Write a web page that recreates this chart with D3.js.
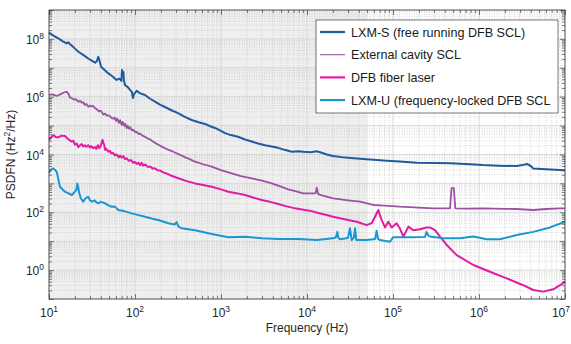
<!DOCTYPE html>
<html><head><meta charset="utf-8">
<script src="https://cdn.jsdelivr.net/npm/d3@7"></script>
<style>
body{margin:0;background:#fff;}
svg{display:block;font-family:"Liberation Sans",Arial,Helvetica,sans-serif;}
</style>
</head><body>
<svg id="chart" width="571" height="344"></svg>
<script>
// ---------- data ----------
const seriesNames = ["LXM-S (free running DFB SCL)", "External cavity SCL", "DFB fiber laser", "LXM-U (frequency-locked DFB SCL"];
const xTickValues = [1e1, 1e2, 1e3, 1e4, 1e5, 1e6, 1e7];
const yTickValues = [1e0, 1e2, 1e4, 1e6, 1e8];
const shadedRange = [10, 5e4];

const lxmS = [[10,1.64e8],[11,1.35e8],[12.8,1.05e8],[14.5,8.2e7],[16.1,7.0e7],[16.8,7.6e7],[17.5,6.7e7],[19.5,5.0e7],[21.9,3.6e7],[25,2.8e7],[28.6,2.1e7],[31,1.8e7],[34.3,1.5e7],[36,1.7e7],[37.4,2.4e7],[38.5,1.9e7],[40.3,1.09e7],[44,8.5e6],[49,6.4e6],[55,5.0e6],[61,3.8e6],[66,4.2e6],[69.5,3.5e6],[70.6,8.4e6],[72,6.0e6],[73.2,7.2e6],[74.5,3.5e6],[76.5,2.5e6],[82,2.2e6],[88,1.7e6],[92,1.46e6],[94.8,9.0e5],[97,1.2e6],[104.7,1.6e6],[115,1.3e6],[130.7,1.15e6],[150,8.5e5],[171,6.7e5],[195,5.3e5],[223,4.4e5],[265,3.4e5],[316,2.7e5],[380,2.0e5],[456,1.56e5],[550,1.3e5],[651,1.14e5],[750,9.5e4],[851,8.3e4],[1000,6.6e4],[1113,5.5e4],[1300,4.7e4],[1578,4.1e4],[1900,3.3e4],[2275,2.8e4],[2700,2.4e4],[3250,2.1e4],[3900,1.9e4],[4600,1.7e4],[5500,1.45e4],[6640,1.25e4],[8000,1.3e4],[8980,1.25e4],[11000,1.2e4],[13000,1.3e4],[14800,1.15e4],[17000,1.0e4],[20000,8.9e3],[28000,7.8e3],[35000,7.4e3],[49400,6.8e3],[65000,6.4e3],[84500,6.1e3],[1.2e5,5.7e3],[1.89e5,5.2e3],[3e5,5.1e3],[4.6e5,5.0e3],[7e5,4.7e3],[1.11e6,4.3e3],[1.7e6,4.1e3],[2.74e6,4.0e3],[3.2e6,4.3e3],[3.59e6,4.7e3],[4.0e6,4.0e3],[4.25e6,3.3e3],[6e6,3.1e3],[8.75e6,2.9e3],[1e7,2.8e3]];

const extCavity = [[10,1.15e6],[11,1.2e6],[12.3,1.06e6],[13.5,1.2e6],[14.7,1.37e6],[16.1,1.49e6],[17,1.2e6],[17.5,9.5e5],[18.5,8.8e5],[19.5,8.0e5],[20.5,8.3e5],[21.9,6.7e5],[23,7.2e5],[24,6.2e5],[25,6.4e5],[26,5.2e5],[27.3,5.6e5],[28.6,4.5e5],[30,5.0e5],[31,4.6e5],[32.5,4.8e5],[34.3,4.0e5],[36,3.7e5],[38,3.1e5],[40,3.3e5],[42.8,2.4e5],[45,2.6e5],[47,2.2e5],[50,2.25e5],[53.6,1.8e5],[56,1.75e5],[58,1.9e5],[60,1.45e5],[62,1.75e5],[65,1.25e5],[67,1.55e5],[70,1.05e5],[72,1.35e5],[75,9.8e4],[77,1.15e5],[80,8.2e4],[82,1.0e5],[85,7.8e4],[88,8.8e4],[92,6.8e4],[96,7.2e4],[100,6.0e4],[105,6.1e4],[110,5.1e4],[115,5.3e4],[122,4.5e4],[131,4.1e4],[140,3.6e4],[150,3.3e4],[160,2.9e4],[171,2.55e4],[183,2.25e4],[195,2.05e4],[210,1.8e4],[223,1.65e4],[245,1.45e4],[270,1.3e4],[295,1.15e4],[316,1.05e4],[340,9.4e3],[360,8.8e3],[390,7.8e3],[413,7.4e3],[455,6.4e3],[499,5.7e3],[620,4.6e3],[780,3.8e3],[1000,2.9e3],[1330,2.23e3],[1700,1.8e3],[2275,1.5e3],[3000,1.25e3],[3890,1.0e3],[4800,8.0e2],[6070,6.25e2],[7500,5.3e2],[9060,4.54e2],[11800,4.54e2],[12600,4.6e2],[13000,7.1e2],[13400,4.5e2],[14200,3.97e2],[20200,3.05e2],[30000,2.6e2],[41300,2.33e2],[59000,1.79e2],[80000,1.7e2],[1.2e5,1.56e2],[2e5,1.45e2],[2.94e5,1.37e2],[4.6e5,1.37e2],[4.8e5,6.9e2],[5.1e5,6.9e2],[5.3e5,1.37e2],[7e5,1.35e2],[1.12e6,1.37e2],[2e6,1.32e2],[2.74e6,1.3e2],[4.28e6,1.2e2],[6e6,1.3e2],[8.75e6,1.37e2],[1e7,1.37e2]];

const dfbFiber = [[10,3.2e4],[11.2,4.7e4],[12,4.0e4],[12.8,3.9e4],[14,4.5e4],[15.3,4.4e4],[16.5,3.5e4],[18.4,2.8e4],[19.2,3.0e4],[20,2.2e4],[21,2.4e4],[21.9,1.8e4],[23,2.1e4],[24,2.3e4],[25,1.9e4],[26,2.1e4],[27.3,1.85e4],[28.6,2.1e4],[30,1.75e4],[31,1.95e4],[32.5,1.65e4],[34.3,1.8e4],[35.5,1.55e4],[37,2.1e4],[38.5,1.65e4],[40,2.0e4],[41,2.6e4],[42,3.2e4],[42.8,2.6e4],[43.8,2.2e4],[44.8,1.45e4],[46,1.6e4],[49,1.25e4],[51,1.35e4],[53,1.1e4],[55,1.15e4],[58.5,9.4e3],[61,1.0e4],[65,8.0e3],[67,9.2e3],[70,7.8e3],[73,8.8e3],[76.5,7.0e3],[80,7.4e3],[85,6.0e3],[90,6.4e3],[95,5.2e3],[100,5.5e3],[105,4.7e3],[110,5.2e3],[115,4.3e3],[120,5.2e3],[125,4.1e3],[131,4.5e3],[140,3.8e3],[150,3.8e3],[160,3.3e3],[171,3.3e3],[183,2.85e3],[195,2.8e3],[210,2.45e3],[223,2.3e3],[270,1.8e3],[319,1.5e3],[400,1.2e3],[499,1.0e3],[620,8.8e2],[780,7.7e2],[1000,6.2e2],[1217,5.16e2],[1500,4.6e2],[1900,3.97e2],[2400,3.2e2],[2970,2.67e2],[3700,2.3e2],[4640,1.94e2],[5800,1.6e2],[7240,1.37e2],[9480,1.2e2],[10800,1.14e2],[13500,9.5e1],[16900,8.1e1],[20000,7.0e1],[24200,6.2e1],[30000,5.4e1],[37800,4.7e1],[49400,3.6e1],[56500,4.2e1],[61800,7.0e1],[67500,1.2e2],[70500,8.0e1],[73900,5.4e1],[80700,3.0e1],[88200,4.7e1],[96600,3.0e1],[1.1e5,4.2e1],[1.2e5,2.8e1],[1.32e5,1.43e1],[1.51e5,3.2e1],[1.72e5,2.4e1],[2.06e5,2.6e1],[2.46e5,3.0e1],[2.69e5,3.0e1],[3.08e5,2.4e1],[3.52e5,1.43e1],[4.21e5,7.4],[5.5e5,3.3],[8.6e5,1.5],[1.34e6,0.88],[2.1e6,0.52],[3.27e6,0.30],[4.28e6,0.205],[5.6e6,0.18],[7.3e6,0.217],[8.75e6,0.30],[1e7,0.40]];

const lxmU = [[10,2.34e3],[10.6,3.0e3],[11.2,3.3e3],[11.8,2.9e3],[12.3,2.5e3],[13.4,7.7e2],[15.3,5.16e2],[18.4,3.97e2],[20,5.16e2],[20.8,6.0e2],[21.3,1.0e3],[21.9,7.0e2],[22.5,4.54e2],[23.5,3.0e2],[25,2.33e2],[26.5,3.0e2],[28.6,3.47e2],[30,2.6e2],[31.4,2.33e2],[34,2.6e2],[35.5,2.2e2],[37.4,2.05e2],[40,2.3e2],[44.8,2.05e2],[48,1.8e2],[53.6,1.56e2],[58,1.6e2],[64,1.2e2],[75,1.1e2],[91.6,9.2e1],[110,8.0e1],[131,7.0e1],[160,6.0e1],[187,5.4e1],[244,4.2e1],[290,3.8e1],[305,4.6e1],[320,3.2e1],[349,2.8e1],[499,2.4e1],[780,1.77e1],[1217,1.36e1],[1900,1.43e1],[2970,1.26e1],[4640,1.19e1],[7930,1.19e1],[13000,1.1e1],[20200,1.26e1],[21800,1.4e1],[22500,2.1e1],[23200,1.3e1],[24200,1.16e1],[30000,1.3e1],[31600,2.8e1],[33100,1.1e1],[35000,1.3e1],[36200,2.8e1],[37500,1.1e1],[39500,1.1e1],[49400,1.1e1],[62000,1.2e1],[64500,2.3e1],[67000,1.2e1],[70600,1.1e1],[92300,9.6],[1.0e5,1.36e1],[1.58e5,1.36e1],[2.35e5,1.4e1],[2.46e5,2.1e1],[2.6e5,1.5e1],[2.82e5,1.43e1],[3.85e5,1.26e1],[6.0e5,1.26e1],[8.6e5,1.45e1],[1.23e6,1.16e1],[1.75e6,1.16e1],[2.74e6,1.64e1],[4.28e6,2.1e1],[6.7e6,3.0e1],[1e7,4.7e1]];

const seriesData = [lxmS, extCavity, dfbFiber, lxmU];
const seriesColors = ["#1f5a9e", "#9b52a3", "#e41aa0", "#1a97d3"];
const seriesWidths = [2.0, 1.8, 2.0, 2.0];
const legendWidths = [2.2, 1.1, 2.2, 2.2];

// ---------- layout ----------
const M = {left: 49, right: 565, top: 10, bottom: 299};
const svg = d3.select("#chart");
const x = d3.scaleLog().domain([1e1, 1e7]).range([M.left, M.right]);
const y = d3.scaleLog().domain([1e-1, 1e9]).range([M.bottom, M.top]);

// background + shaded area
svg.append("rect").attr("x", M.left).attr("y", M.top)
  .attr("width", M.right - M.left).attr("height", M.bottom - M.top).attr("fill", "#ffffff");
svg.append("rect").attr("x", x(shadedRange[0])).attr("y", M.top)
  .attr("width", x(shadedRange[1]) - x(shadedRange[0])).attr("height", M.bottom - M.top)
  .attr("fill", "#efefef");

// grid values
function logTicks(lo, hi) {
  const major = [], minor = [];
  for (let e = lo; e <= hi; e++) {
    major.push(Math.pow(10, e));
    if (e < hi) for (let m = 2; m <= 9; m++) minor.push(m * Math.pow(10, e));
  }
  return {major, minor};
}
const xt = logTicks(1, 7), yt = logTicks(-1, 9);
const grid = svg.append("g");
grid.selectAll(".xm").data(xt.minor).join("line")
  .attr("x1", d => x(d)).attr("x2", d => x(d)).attr("y1", M.top).attr("y2", M.bottom)
  .attr("stroke", "#bdbdbd").attr("stroke-width", 0.6).attr("stroke-dasharray", "1,1.5");
grid.selectAll(".ym").data(yt.minor).join("line")
  .attr("y1", d => y(d)).attr("y2", d => y(d)).attr("x1", M.left).attr("x2", M.right)
  .attr("stroke", "#bdbdbd").attr("stroke-width", 0.6).attr("stroke-dasharray", "1,1.5");
grid.selectAll(".xM").data(xt.major).join("line")
  .attr("x1", d => x(d)).attr("x2", d => x(d)).attr("y1", M.top).attr("y2", M.bottom)
  .attr("stroke", "#d2d2d2").attr("stroke-width", 0.8);
grid.selectAll(".yM").data(yt.major).join("line")
  .attr("y1", d => y(d)).attr("y2", d => y(d)).attr("x1", M.left).attr("x2", M.right)
  .attr("stroke", "#d2d2d2").attr("stroke-width", 0.8);

// series
const line = d3.line().x(d => x(d[0])).y(d => y(d[1]));
const plot = svg.append("g");
seriesData.forEach((s, i) => {
  plot.append("path").datum(s).attr("d", line).attr("fill", "none")
    .attr("stroke", seriesColors[i]).attr("stroke-width", seriesWidths[i])
    .attr("stroke-linejoin", "round");
});

// axes (ticks inside)
const tickColor = "#262626";
function styleAxis(g) {
  g.select(".domain").remove();
  g.selectAll("line").attr("stroke", tickColor).attr("stroke-width", 0.6);
  g.selectAll("text").remove();
}
svg.append("g").attr("transform", `translate(0,${M.bottom})`)
  .call(d3.axisBottom(x).tickValues(xt.major).tickSize(-5)).call(styleAxis);
svg.append("g").attr("transform", `translate(0,${M.bottom})`)
  .call(d3.axisBottom(x).tickValues(xt.minor).tickSize(-3)).call(styleAxis);
svg.append("g").attr("transform", `translate(0,${M.top})`)
  .call(d3.axisTop(x).tickValues(xt.major).tickSize(-5)).call(styleAxis);
svg.append("g").attr("transform", `translate(0,${M.top})`)
  .call(d3.axisTop(x).tickValues(xt.minor).tickSize(-3)).call(styleAxis);
svg.append("g").attr("transform", `translate(${M.left},0)`)
  .call(d3.axisLeft(y).tickValues(yt.major).tickSize(-5)).call(styleAxis);
svg.append("g").attr("transform", `translate(${M.left},0)`)
  .call(d3.axisLeft(y).tickValues(yt.minor).tickSize(-3)).call(styleAxis);
svg.append("g").attr("transform", `translate(${M.right},0)`)
  .call(d3.axisRight(y).tickValues(yt.major).tickSize(-5)).call(styleAxis);
svg.append("g").attr("transform", `translate(${M.right},0)`)
  .call(d3.axisRight(y).tickValues(yt.minor).tickSize(-3)).call(styleAxis);

// frame
svg.append("rect").attr("x", M.left).attr("y", M.top)
  .attr("width", M.right - M.left).attr("height", M.bottom - M.top)
  .attr("fill", "none").attr("stroke", "#3a3a3a").attr("stroke-width", 0.8);

// tick labels
const labCol = "#262626";
function powLabel(sel, d) {
  sel.append("tspan").text("10");
  sel.append("tspan").attr("dy", -5).attr("font-size", 8.5).text(Math.round(Math.log10(d)));
}
const lastX = xTickValues[xTickValues.length - 1];
svg.append("g").selectAll("text").data(xTickValues).join("text")
  .attr("x", d => d === lastX ? 570 : x(d)).attr("y", M.bottom + 18)
  .attr("text-anchor", d => d === lastX ? "end" : "middle")
  .attr("font-size", 12).attr("fill", labCol)
  .each(function(d){ powLabel(d3.select(this), d); });
svg.append("g").selectAll("text").data(yTickValues).join("text")
  .attr("x", M.left - 5).attr("y", d => y(d) + 5).attr("text-anchor", "end")
  .attr("font-size", 12).attr("fill", labCol)
  .each(function(d){ powLabel(d3.select(this), d); });

// axis titles
svg.append("text").attr("x", (M.left + M.right) / 2).attr("y", 332)
  .attr("text-anchor", "middle").attr("font-size", 12).attr("fill", labCol)
  .text("Frequency (Hz)");
const yl = svg.append("text").attr("transform", `translate(15,${(M.top + M.bottom) / 2}) rotate(-90)`)
  .attr("text-anchor", "middle").attr("font-size", 12).attr("fill", labCol);
yl.append("tspan").text("PSDFN (Hz");
yl.append("tspan").attr("dy", -5).attr("font-size", 8.5).text("2");
yl.append("tspan").attr("dy", 5).text("/Hz)");

// legend
const lg = svg.append("g");
lg.append("rect").attr("x", 316).attr("y", 20).attr("width", 242).attr("height", 93)
  .attr("fill", "#ffffff").attr("stroke", "#3a3a3a").attr("stroke-width", 0.7);
seriesNames.forEach((name, i) => {
  const cy = 32 + i * 22.7;
  lg.append("line").attr("x1", 320).attr("x2", 345).attr("y1", cy).attr("y2", cy)
    .attr("stroke", seriesColors[i]).attr("stroke-width", legendWidths[i]);
  lg.append("text").attr("x", 351).attr("y", cy + 4.5).attr("font-size", 12.6)
    .attr("fill", "#1a1a1a").text(name);
});
</script>
</body></html>
